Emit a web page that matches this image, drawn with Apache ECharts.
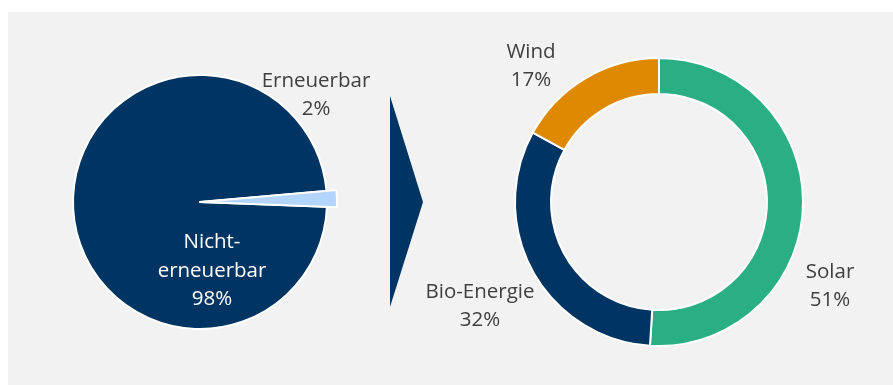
<!DOCTYPE html>
<html>
<head>
<meta charset="utf-8">
<script src="https://cdn.jsdelivr.net/npm/echarts@6/dist/echarts.min.js"></script>
<style>
  html, body { margin: 0; padding: 0; background: #ffffff; }
  #chart { width: 893px; height: 385px; }
</style>
</head>
<body>
<div id="chart"></div>
<script>
// Energy mix: share of renewables, then the renewable split by source
const mixNames = ['Erneuerbar', 'Nicht-erneuerbar'];
const mixValues = [2, 98];
const sourceNames = ['Solar', 'Bio-Energie', 'Wind'];
const sourceValues = [51, 32, 17];

const NAVY = '#003462';
const LIGHT = '#b3d4fc';
const GREEN = '#2aae84';
const ORANGE = '#df8900';
const TEXT = '#404040';
const FONT = '"Open Sans"';

const labelBase = {
  fontFamily: FONT,
  fontSize: 20.5,
  lineHeight: 28.5,
  color: TEXT,
  align: 'center',
  overflow: 'none'
};

// hand-placed label anchors (centre of each text block)
const mixLabelPos = { 'Erneuerbar': [316, 95], 'Nicht-erneuerbar': [212, 271] };
const sourceLabelPos = { 'Solar': [830, 286], 'Bio-Energie': [480, 306], 'Wind': [531, 66] };

const chart = echarts.init(document.getElementById('chart'), null, { renderer: 'canvas' });

// main pie: large slice with a gap where the renewable wedge sits
const mixMain = mixNames.map((n, i) => {
  const item = { name: n, value: mixValues[i] };
  if (i === 0) {
    item.itemStyle = { color: 'rgba(0,0,0,0)', borderWidth: 0 };
    item.label = { show: false };
  } else {
    item.itemStyle = { color: NAVY };
  }
  return item;
});

// renewable wedge drawn on a slightly larger radius
const mixWedge = mixNames.map((n, i) => {
  const item = { name: n, value: mixValues[i] };
  if (i === 0) {
    item.itemStyle = { color: LIGHT };
  } else {
    item.itemStyle = { color: 'rgba(0,0,0,0)', borderWidth: 0 };
    item.label = { show: false };
  }
  return item;
});

const sourceColors = [GREEN, NAVY, ORANGE];
const sourceData = sourceNames.map((n, i) => ({
  name: n, value: sourceValues[i], itemStyle: { color: sourceColors[i] }
}));

function layoutFrom(posMap, names) {
  return function (params) {
    const name = names[params.dataIndex];
    const p = posMap[name];
    if (!p) return {};
    return {
      x: p[0],
      y: p[1] - params.labelRect.height / 2,
      align: 'center',
      verticalAlign: 'top'
    };
  };
}

const option = {
  animation: false,
  backgroundColor: '#ffffff',
  graphic: [
    {
      type: 'rect', z: -10, silent: true,
      shape: { x: 8, y: 12, width: 885, height: 373 },
      style: { fill: '#f2f2f2' }
    },
    {
      type: 'polygon', z: 5, silent: true,
      shape: { points: [[390, 96], [423, 202], [390, 307]] },
      style: { fill: NAVY }
    }
  ],
  series: [
    {
      type: 'pie',
      center: [200, 202],
      radius: [0, 127],
      startAngle: 5,
      clockwise: true,
      silent: true,
      itemStyle: { borderColor: '#ffffff', borderWidth: 2 },
      label: Object.assign({}, labelBase, {
        position: 'inside',
        color: '#ffffff',
        formatter: p => p.name.replace('-', '-\n') + '\n' + p.value + '%'
      }),
      labelLine: { show: false },
      labelLayout: layoutFrom(mixLabelPos, mixNames),
      emphasis: { disabled: true },
      data: mixMain
    },
    {
      type: 'pie',
      center: [200, 202],
      radius: [0, 137],
      startAngle: 5,
      clockwise: true,
      silent: true,
      itemStyle: { borderColor: '#ffffff', borderWidth: 2 },
      label: Object.assign({}, labelBase, {
        position: 'outside',
        formatter: p => p.name + '\n' + p.value + '%'
      }),
      labelLine: { show: false },
      labelLayout: layoutFrom(mixLabelPos, mixNames),
      emphasis: { disabled: true },
      data: mixWedge
    },
    {
      type: 'pie',
      center: [659, 202],
      radius: [108, 144],
      startAngle: 90,
      clockwise: true,
      silent: true,
      itemStyle: { borderColor: '#ffffff', borderWidth: 2 },
      label: Object.assign({}, labelBase, {
        position: 'outside',
        formatter: p => p.name + '\n' + p.value + '%'
      }),
      labelLine: { show: false },
      labelLayout: layoutFrom(sourceLabelPos, sourceNames),
      emphasis: { disabled: true },
      data: sourceData
    }
  ]
};

chart.setOption(option);
</script>
</body>
</html>
